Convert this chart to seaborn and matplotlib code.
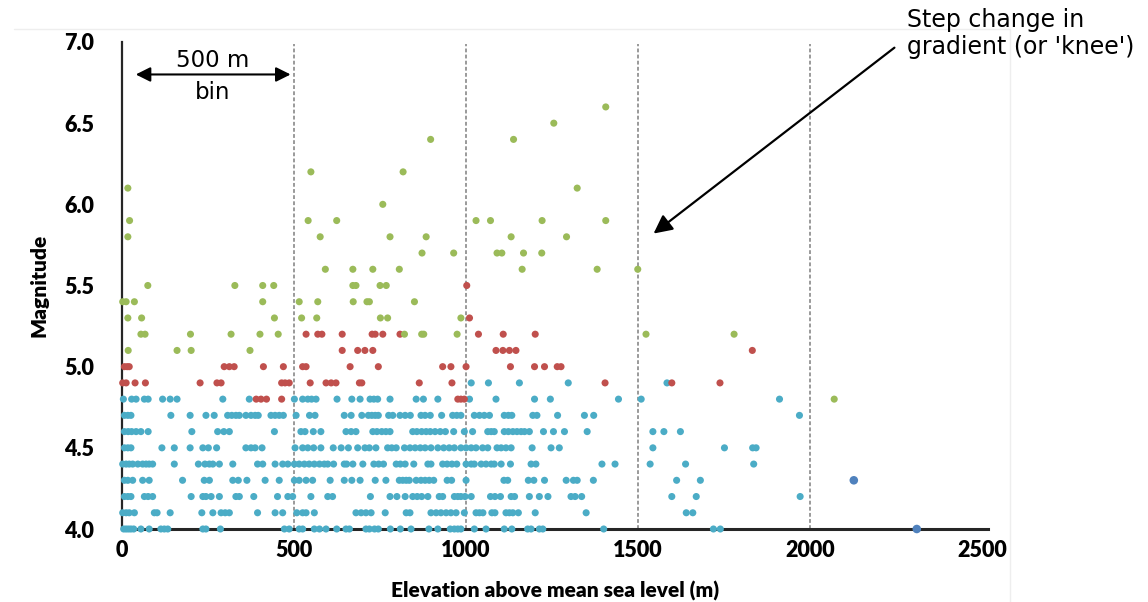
import numpy as np
import pandas as pd
import matplotlib
matplotlib.use("Agg")
import matplotlib.pyplot as plt
import seaborn as sns

# ---------------- data (elevation in m, per magnitude row) ----------------
blue_40 = [5, 12, 19, 26, 34, 55, 79, 113, 123, 133, 235, 244, 286, 472, 486, 515, 525, 559, 574, 593,
           624, 651, 661, 709, 719, 734, 745, 780, 809, 840, 892, 918, 954, 966, 976, 985, 1024, 1058,
           1111, 1133, 1179, 1189, 1213, 1223, 1400, 1719, 1739]
blue_41 = [2, 12, 21, 36, 94, 102, 140, 232, 264, 288, 300, 312, 394, 445, 467, 508, 525, 535, 559, 680,
           695, 709, 724, 765, 826, 837, 898, 913, 927, 942, 956, 971, 995, 1029, 1039, 1049, 1075, 1084,
           1116, 1126, 1136, 1152, 1201, 1349, 1640, 1659]
blue_42 = [7, 17, 26, 65, 76, 89, 201, 235, 244, 259, 283, 331, 341, 383, 452, 482, 496, 549, 598, 612,
           722, 779, 799, 823, 845, 858, 871, 889, 922, 932, 966, 976, 985, 997, 1015, 1071, 1084, 1100,
           1131, 1141, 1184, 1213, 1238, 1305, 1317, 1336, 1598, 1669, 1971]
blue_43 = [7, 17, 31, 60, 79, 176, 239, 254, 322, 338, 363, 416, 457, 501, 515, 535, 554, 605, 646, 668,
           692, 736, 767, 806, 816, 826, 835, 855, 869, 881, 893, 906, 945, 958, 1000, 1110, 1121, 1181,
           1197, 1228, 1291, 1312, 1323, 1370, 1612, 1681]
blue_44 = [2, 12, 21, 31, 46, 60, 70, 79, 89, 152, 222, 241, 254, 264, 283, 322, 394, 409, 445, 467, 482,
           501, 515, 530, 544, 559, 574, 588, 598, 615, 646, 653, 671, 700, 732, 746, 760, 797, 809, 823,
           848, 889, 898, 932, 945, 959, 973, 1000, 1015, 1024, 1044, 1058, 1073, 1082, 1102, 1129, 1189,
           1203, 1395, 1433, 1535, 1638, 1836]
blue_45 = [7, 17, 26, 116, 152, 198, 235, 251, 275, 360, 375, 387, 407, 503, 525, 540, 557, 578, 614, 637,
           658, 685, 706, 719, 738, 772, 784, 797, 821, 837, 852, 867, 881, 898, 918, 935, 951, 966, 985,
           1000, 1015, 1029, 1048, 1063, 1090, 1102, 1116, 1131, 1192, 1247, 1271, 1543, 1751, 1833, 1843]
blue_46 = [7, 18, 28, 41, 55, 76, 203, 278, 296, 312, 443, 520, 532, 556, 578, 651, 666, 680, 729, 741,
           755, 767, 779, 845, 857, 871, 884, 896, 910, 925, 940, 964, 995, 1019, 1063, 1073, 1082, 1111,
           1123, 1136, 1148, 1160, 1170, 1184, 1225, 1254, 1286, 1352, 1543, 1575, 1623]
blue_47 = [7, 17, 26, 142, 198, 244, 268, 307, 319, 331, 341, 360, 375, 387, 396, 433, 445, 457, 469, 506,
           545, 561, 646, 666, 697, 716, 726, 736, 745, 775, 787, 808, 823, 838, 869, 881, 896, 929, 961,
           973, 985, 1024, 1039, 1053, 1068, 1111, 1123, 1133, 1194, 1206, 1266, 1344, 1371, 1969]
blue_48 = [4, 28, 41, 65, 76, 118, 140, 160, 293, 370, 501, 525, 540, 551, 564, 625, 668, 692, 721, 732,
           743, 779, 855, 876, 918, 1010, 1087, 1199, 1245, 1443, 1509, 1911]
blue_49 = [1015, 1065, 1155, 1297, 1584]

red_48 = [390, 404, 420, 464, 976, 985, 995]
red_49 = [2, 12, 38, 68, 227, 276, 288, 464, 474, 486, 547, 593, 608, 622, 690, 697, 864, 959, 1404,
          1598, 1738]
red_50 = [7, 15, 21, 297, 312, 326, 411, 469, 525, 535, 663, 745, 932, 956, 1000, 1129, 1199, 1228,
          1265, 1276]
red_51 = [640, 685, 706, 729, 1087, 1107, 1126, 1145, 1832]
red_52 = [535, 569, 581, 640, 727, 736, 758, 808, 1036, 1108, 1201]
red_53 = [1010]
red_55 = [1002]

green_48 = [2070]
green_51 = [18, 160, 201, 372]
green_52 = [55, 67, 199, 317, 401, 454, 821, 871, 877, 974, 1523, 1779]
green_53 = [17, 57, 443, 522, 566, 751, 772, 985]
green_54 = [2, 12, 36, 409, 515, 569, 672, 712, 719, 850]
green_55 = [75, 328, 409, 441, 671, 680, 750, 768]
green_56 = [591, 671, 729, 806, 1163, 1381, 1499]
green_57 = [872, 964, 1090, 1104, 1167, 1220]
green_58 = [17, 576, 779, 884, 1131, 1292]
green_59 = [22, 541, 624, 1029, 1071, 1221, 1406]
green_60 = [758]
green_61 = [17, 1323]
green_62 = [549, 817]
green_64 = [897, 1138]
green_65 = [1255]
green_66 = [1406]

navy_elev = [2127, 2310]
navy_mag = [4.3, 4.0]

x_ticks = [0, 500, 1000, 1500, 2000, 2500]
y_ticks = [4.0, 4.5, 5.0, 5.5, 6.0, 6.5, 7.0]
bin_edges = [500, 1000, 1500, 2000]

# ---------------- build a table ----------------
rows = []
def add(group, mag, elevs):
    for e in elevs:
        rows.append((e, mag, group))

for mag, lst in [(4.0, blue_40), (4.1, blue_41), (4.2, blue_42), (4.3, blue_43), (4.4, blue_44),
                 (4.5, blue_45), (4.6, blue_46), (4.7, blue_47), (4.8, blue_48), (4.9, blue_49)]:
    add("blue", mag, lst)
for mag, lst in [(4.8, red_48), (4.9, red_49), (5.0, red_50), (5.1, red_51), (5.2, red_52),
                 (5.3, red_53), (5.5, red_55)]:
    add("red", mag, lst)
for mag, lst in [(4.8, green_48), (5.1, green_51), (5.2, green_52), (5.3, green_53), (5.4, green_54),
                 (5.5, green_55), (5.6, green_56), (5.7, green_57), (5.8, green_58), (5.9, green_59),
                 (6.0, green_60), (6.1, green_61), (6.2, green_62), (6.4, green_64), (6.5, green_65),
                 (6.6, green_66)]:
    add("green", mag, lst)
for e, m in zip(navy_elev, navy_mag):
    rows.append((e, m, "navy"))

df = pd.DataFrame(rows, columns=["elev", "mag", "group"])

palette = {"blue": "#4bacc6", "red": "#c0504d", "green": "#9bbb59", "navy": "#4f81bd"}

# ---------------- plot ----------------
sns.set_style("white")
plt.rcParams["font.family"] = ["DejaVu Sans"]
plt.rcParams["text.color"] = "black"

fig = plt.figure(figsize=(11.48, 6.02), dpi=100)
W, H = 1148, 602
ax = fig.add_axes([122 / W, 73 / H, 866 / W, 487 / H])

# faint chart-area border
fig.add_artist(plt.Line2D([14 / W, 1010 / W], [1 - 29 / H, 1 - 29 / H], color="#eeeeee", lw=1))
fig.add_artist(plt.Line2D([1010 / W, 1010 / W], [0, 1 - 29 / H], color="#eeeeee", lw=1))

ax.vlines(bin_edges, 4.0, 6.99, colors="#7f7f7f", linestyles=(0, (2.5, 1.5)), lw=1.1, zorder=1)

main = df[df.group != "navy"]
sns.scatterplot(data=main, x="elev", y="mag", hue="group", palette=palette, s=26,
                linewidth=0, legend=False, ax=ax, zorder=3, clip_on=False)
navy = df[df.group == "navy"]
sns.scatterplot(data=navy, x="elev", y="mag", hue="group", palette=palette, s=38,
                linewidth=0, legend=False, ax=ax, zorder=3, clip_on=False)

ax.set_xlim(0, 2517)
ax.set_ylim(4.0, 7.0)
ax.set_xticks(x_ticks)
ax.set_yticks(y_ticks)
ax.set_yticklabels([f"{v:.1f}" for v in y_ticks])

lab_family = ["Lato", "DejaVu Sans"]
for lab in ax.get_xticklabels() + ax.get_yticklabels():
    lab.set_fontfamily(lab_family)
    lab.set_fontweight("heavy")
    lab.set_fontsize(15.5)
    lab.set_color("black")
ax.tick_params(axis="x", length=0, pad=8)
ax.tick_params(axis="y", length=0, pad=20)

ax.set_xlabel("Elevation above mean sea level (m)", fontfamily=lab_family,
              fontweight="heavy", fontsize=15, labelpad=14, color="black")
ax.set_ylabel("Magnitude", fontfamily=lab_family,
              fontweight="heavy", fontsize=15, color="black")
ax.yaxis.set_label_coords(-74 / 866, 0.5)

for side in ["top", "right"]:
    ax.spines[side].set_visible(False)
ax.spines["left"].set_color("#262626")
ax.spines["left"].set_linewidth(1.6)
ax.spines["bottom"].set_color("#262626")
ax.spines["bottom"].set_linewidth(2.2)

# 500 m bin annotation
ax.annotate("", xy=(40, 6.80), xytext=(490, 6.80),
            arrowprops=dict(arrowstyle="<|-|>", color="black", lw=1.5, mutation_scale=22,
                            shrinkA=0, shrinkB=0))
ax.text(263, 6.885, "500 m", ha="center", va="center", fontsize=16.5, color="black")
ax.text(263, 6.69, "bin", ha="center", va="center", fontsize=16.5, color="black")

# knee annotation
ax.annotate("", xy=(1545, 5.82), xytext=(2245, 6.965),
            arrowprops=dict(arrowstyle="-|>", color="black", lw=1.6, mutation_scale=28,
                            shrinkA=0, shrinkB=0), annotation_clip=False)
fig.text(907 / W, 1 - 8 / H, "Step change in\ngradient (or 'knee')", ha="left", va="top",
         fontsize=17, color="black", linespacing=1.15)

fig.savefig("out.png", dpi=100, facecolor="white")
